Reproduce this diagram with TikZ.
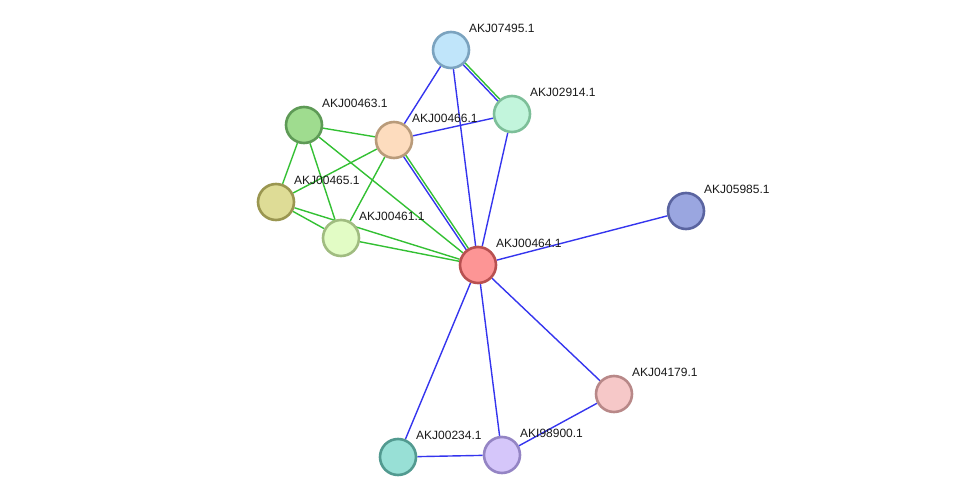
\documentclass[tikz,border=0pt]{standalone}
\usepackage{fontspec}
\setmainfont{Liberation Sans}
\usetikzlibrary{calc,backgrounds}
\definecolor{eg}{HTML}{33C033}
\definecolor{eb}{HTML}{3535EE}
\tikzset{
  prot/.style={circle,minimum size=36pt,inner sep=0pt,line width=2.6pt},
  lab/.style={anchor=west,font=\fontsize{12}{14}\selectfont,inner sep=0pt,text=black!90},
  ge/.style={eg,line width=1.4pt},
  be/.style={eb,line width=1.4pt},
}
\newcommand{\dbl}[2]{%
  \draw[ge] ($(#1.center)!1.3pt!90:(#2.center)$) -- ($(#2.center)!1.3pt!-90:(#1.center)$);
  \draw[be] ($(#1.center)!1.3pt!-90:(#2.center)$) -- ($(#2.center)!1.3pt!90:(#1.center)$);}
\begin{document}
\begin{tikzpicture}[x=1pt,y=-1pt]
\useasboundingbox (0,0) rectangle (976,502);
\node[prot,fill={rgb,255:red,192;green,229;blue,250},draw={rgb,255:red,123;green,163;blue,191}] (n07495) at (451,50) {};
\node[prot,fill={rgb,255:red,194;green,245;blue,220},draw={rgb,255:red,125;green,191;blue,153}] (n02914) at (512,114) {};
\node[prot,fill={rgb,255:red,159;green,220;blue,143},draw={rgb,255:red,94;green,154;blue,86}] (n00463) at (304,125) {};
\node[prot,fill={rgb,255:red,253;green,220;blue,190},draw={rgb,255:red,185;green,155;blue,122}] (n00466) at (394,140) {};
\node[prot,fill={rgb,255:red,222;green,220;blue,150},draw={rgb,255:red,154;green,150;blue,80}] (n00465) at (276,202) {};
\node[prot,fill={rgb,255:red,226;green,252;blue,197},draw={rgb,255:red,160;green,188;blue,128}] (n00461) at (341,238) {};
\node[prot,fill={rgb,255:red,253;green,149;blue,149},draw={rgb,255:red,184;green,80;blue,80}] (n00464) at (478,265) {};
\node[prot,fill={rgb,255:red,154;green,166;blue,224},draw={rgb,255:red,90;green,100;blue,160}] (n05985) at (686,211) {};
\node[prot,fill={rgb,255:red,246;green,200;blue,200},draw={rgb,255:red,184;green,136;blue,136}] (n04179) at (614,394) {};
\node[prot,fill={rgb,255:red,152;green,224;blue,214},draw={rgb,255:red,82;green,154;blue,144}] (n00234) at (398,457) {};
\node[prot,fill={rgb,255:red,213;green,198;blue,250},draw={rgb,255:red,148;green,132;blue,196}] (n98900) at (502,455) {};
\begin{scope}[on background layer]
\dbl{n07495}{n02914}
\draw[be] (n07495) -- (n00466);
\draw[be] (n07495) -- (n00464);
\draw[be] (n02914) -- (n00466);
\draw[be] (n02914) -- (n00464);
\draw[ge] (n00463) -- (n00466);
\draw[ge] (n00463) -- (n00465);
\draw[ge] (n00463) -- (n00461);
\draw[ge] (n00463) -- (n00464);
\draw[ge] (n00466) -- (n00465);
\draw[ge] (n00466) -- (n00461);
\dbl{n00466}{n00464}
\draw[ge] (n00465) -- (n00461);
\draw[ge] (n00465) -- (n00464);
\draw[ge] (n00461) -- (n00464);
\draw[be] (n00464) -- (n05985);
\draw[be] (n00464) -- (n04179);
\draw[be] (n00464) -- (n00234);
\draw[be] (n00464) -- (n98900);
\draw[be] (n04179) -- (n98900);
\draw[be] (n00234) -- (n98900);
\end{scope}
\node[lab] (l07495) at ($(n07495)+(18,-22)$) {AKJ07495.1};
\node[lab] (l02914) at ($(n02914)+(18,-22)$) {AKJ02914.1};
\node[lab] (l00463) at ($(n00463)+(18,-22)$) {AKJ00463.1};
\node[lab] (l00466) at ($(n00466)+(18,-22)$) {AKJ00466.1};
\node[lab] (l00465) at ($(n00465)+(18,-22)$) {AKJ00465.1};
\node[lab] (l00461) at ($(n00461)+(18,-22)$) {AKJ00461.1};
\node[lab] (l00464) at ($(n00464)+(18,-22)$) {AKJ00464.1};
\node[lab] (l05985) at ($(n05985)+(18,-22)$) {AKJ05985.1};
\node[lab] (l04179) at ($(n04179)+(18,-22)$) {AKJ04179.1};
\node[lab] (l00234) at ($(n00234)+(18,-22)$) {AKJ00234.1};
\node[lab] (l98900) at ($(n98900)+(18,-22)$) {AKI98900.1};
\end{tikzpicture}
\end{document}
